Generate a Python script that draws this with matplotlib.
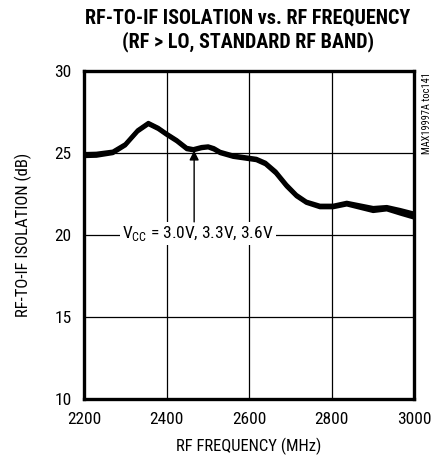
import matplotlib
matplotlib.use("Agg")
import matplotlib.pyplot as plt

# RF-to-IF isolation vs RF frequency, three supply voltages
freq = [2200, 2230, 2270, 2300, 2330, 2356, 2380, 2400, 2425, 2449, 2465, 2485,
        2501, 2515, 2530, 2562, 2590, 2618, 2640, 2665, 2691, 2715, 2739, 2772,
        2804, 2837, 2869, 2901, 2934, 2966, 3000]
iso_30 = [24.80, 24.82, 24.98, 25.45, 26.30, 26.75, 26.45, 26.10, 25.70, 25.22, 25.15, 25.28,
          25.33, 25.20, 24.98, 24.75, 24.65, 24.55, 24.30, 23.75, 22.95, 22.35, 21.95, 21.68,
          21.68, 21.85, 21.65, 21.45, 21.55, 21.30, 21.05]
iso_33 = [24.88, 24.90, 25.05, 25.50, 26.35, 26.80, 26.50, 26.15, 25.75, 25.28, 25.20, 25.33,
          25.38, 25.26, 25.04, 24.80, 24.70, 24.60, 24.35, 23.80, 23.00, 22.40, 22.00, 21.74,
          21.74, 21.92, 21.73, 21.55, 21.62, 21.42, 21.18]
iso_36 = [24.95, 24.97, 25.10, 25.55, 26.40, 26.85, 26.55, 26.20, 25.80, 25.33, 25.25, 25.38,
          25.42, 25.31, 25.09, 24.86, 24.76, 24.66, 24.42, 23.88, 23.08, 22.46, 22.05, 21.80,
          21.80, 21.98, 21.82, 21.66, 21.72, 21.54, 21.32]

xticks = [2200, 2400, 2600, 2800, 3000]
yticks = [10, 15, 20, 25, 30]

plt.rcParams["font.family"] = ["Roboto Condensed", "DejaVu Sans"]
plt.rcParams["mathtext.fontset"] = "custom"
plt.rcParams["mathtext.rm"] = "Roboto Condensed"

fig = plt.figure(figsize=(4.43, 4.57), dpi=100)
ax = fig.add_axes([0.1896, 0.1269, 0.745, 0.7177])

for y in (iso_30, iso_33, iso_36):
    ax.plot(freq, y, color="black", lw=2.7, solid_capstyle="round", zorder=3)

ax.set_xlim(2200, 3000)
ax.set_ylim(10, 30)
ax.set_xticks(xticks)
ax.set_yticks(yticks)
ax.grid(True, color="black", lw=0.9)
ax.tick_params(length=0, labelsize=12.5, pad=9)
for s in ax.spines.values():
    s.set_linewidth(2.4)

ax.set_xlabel("RF FREQUENCY (MHz)", fontsize=12, labelpad=8)
ax.set_ylabel("RF-TO-IF ISOLATION (dB)", fontsize=12, labelpad=16)

fig.text(0.560, 0.934, "RF-TO-IF ISOLATION vs. RF FREQUENCY\n(RF > LO, STANDARD RF BAND)",
         ha="center", va="center", fontsize=14.5, fontweight=800, linespacing=1.2)

ax.text(2476, 20.1, r"V$_{\mathregular{CC}}$ = 3.0V, 3.3V, 3.6V", ha="center", va="center",
        fontsize=12.5, bbox=dict(facecolor="white", edgecolor="none", pad=1.5), zorder=5)
ax.annotate("", xy=(2467, 25.15), xytext=(2467, 20.8),
            arrowprops=dict(arrowstyle="-|>", color="black", lw=1.0,
                            mutation_scale=14, shrinkA=0, shrinkB=0), zorder=6)

fig.text(0.963, 0.843, "MAX19997A toc141", rotation=90, ha="center", va="top", fontsize=7.5)

fig.savefig("out.png", dpi=100)
